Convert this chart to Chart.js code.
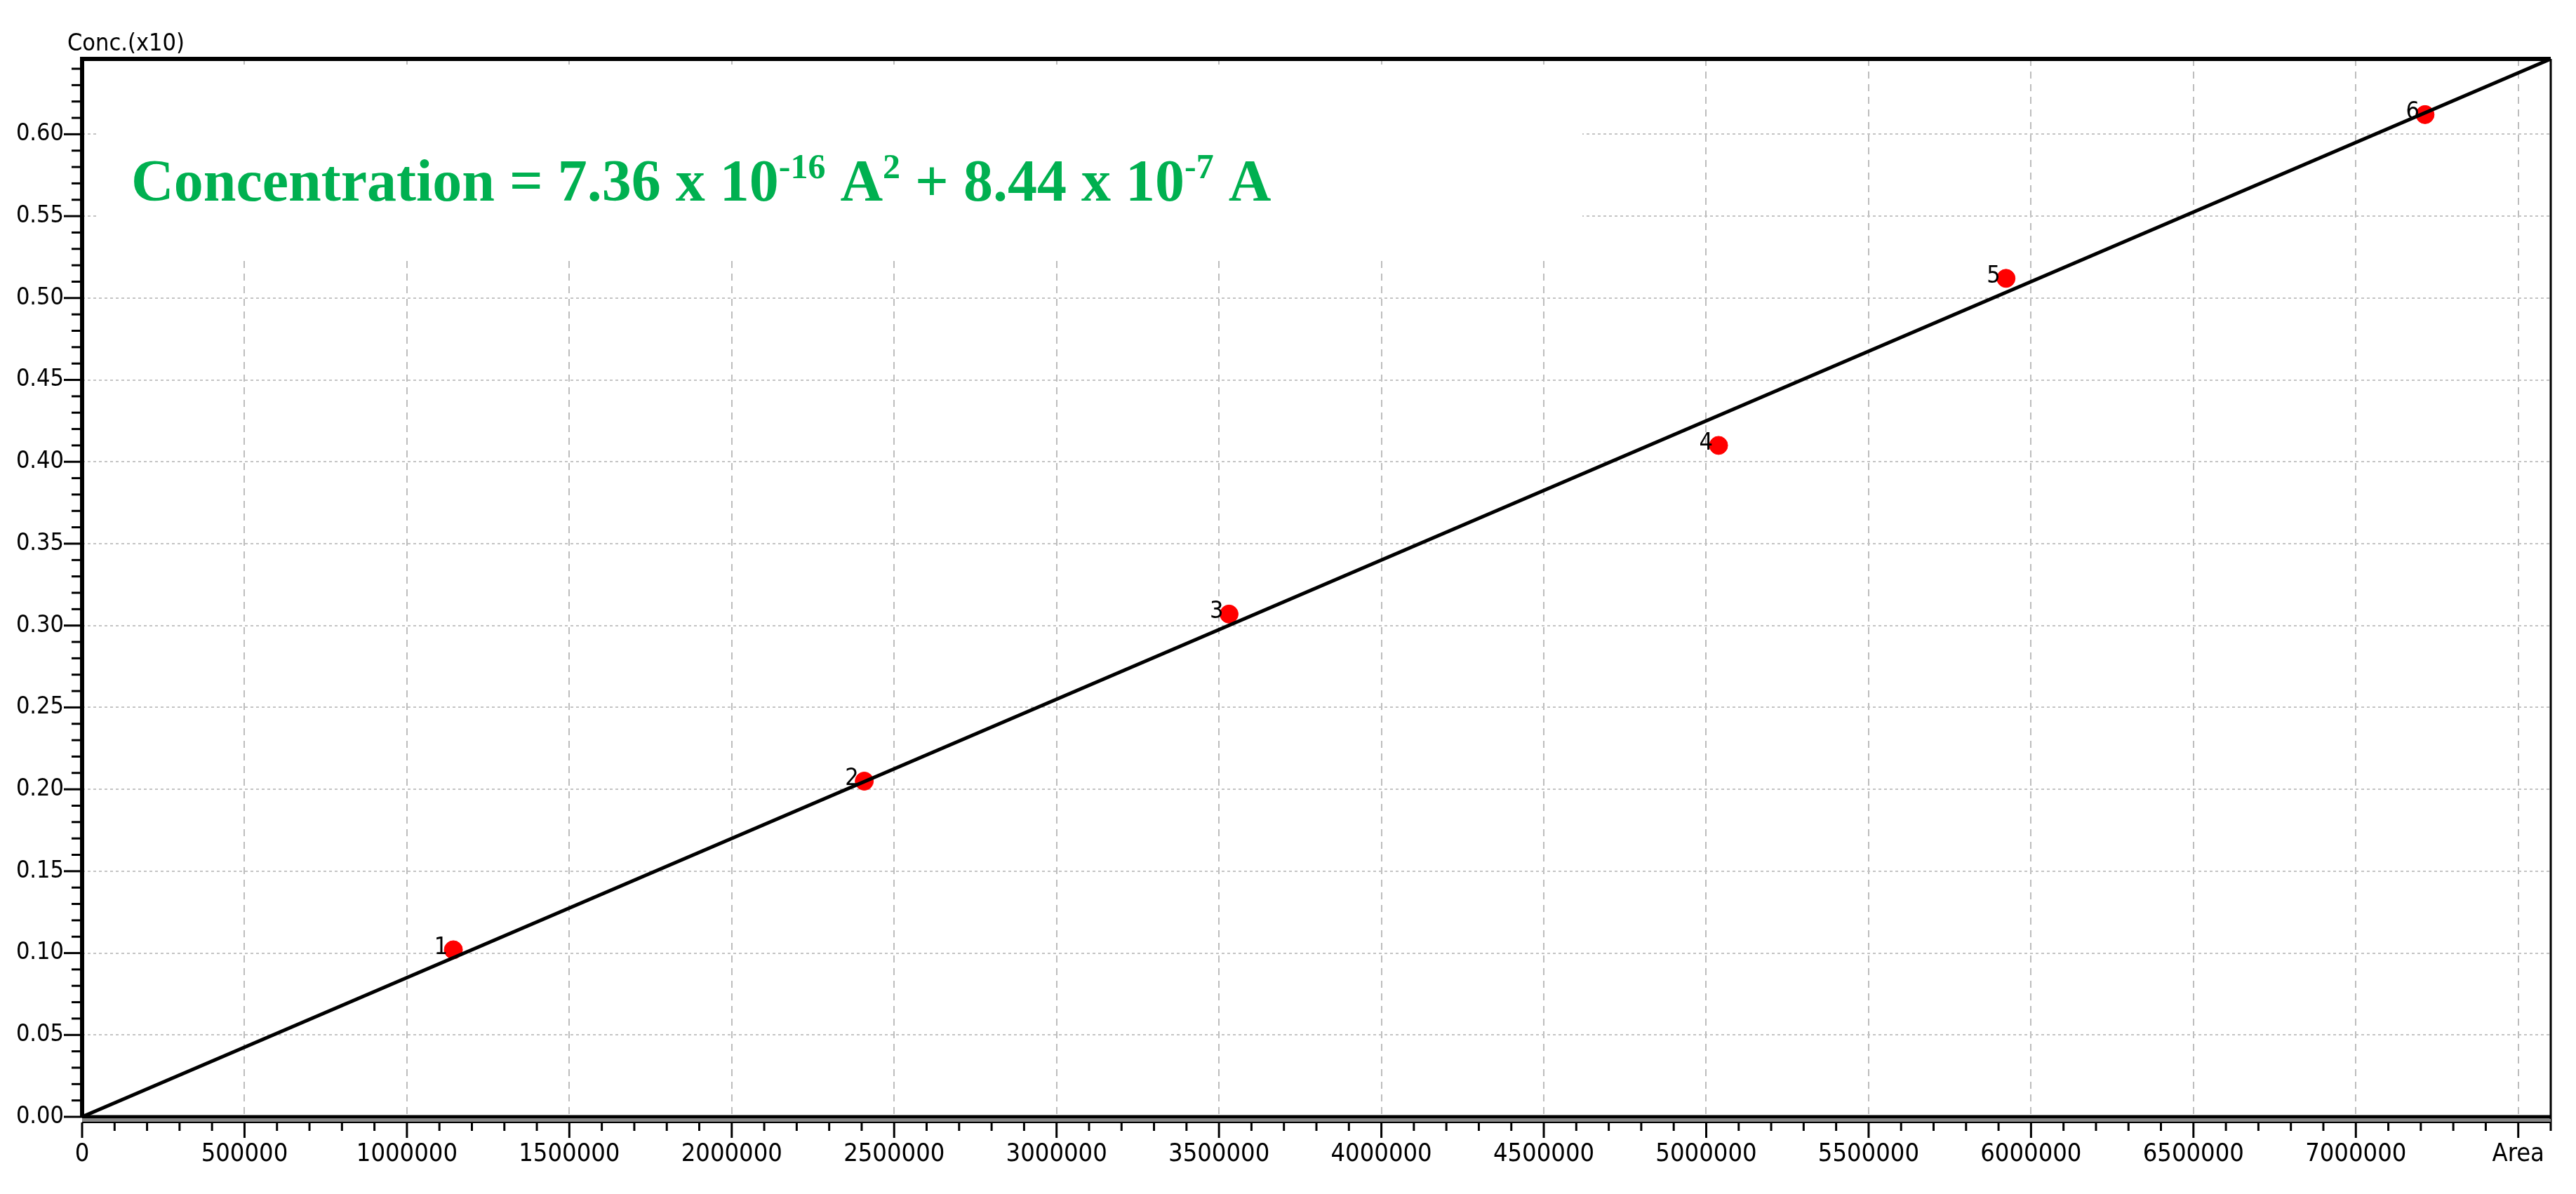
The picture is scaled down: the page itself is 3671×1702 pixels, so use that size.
<!DOCTYPE html>
<html>
<head>
<meta charset="utf-8">
<script src="https://cdn.jsdelivr.net/npm/chart.js@4"></script>
<style>
  html, body { margin: 0; padding: 0; background: #fff; }
  canvas { display: block; }
</style>
</head>
<body>
<canvas id="calib" width="3671" height="1702"></canvas>
<script>
// calibration points (Area vs Conc.)
const pointLabels = ['1', '2', '3', '4', '5', '6'];
const areaValues = [1143000, 2408000, 3531000, 5038000, 5923000, 7213000];
const concValues = [0.102, 0.205, 0.307, 0.410, 0.512, 0.612];

// fitted line ends
const fitArea = [0, 7600000];
const fitConc = [0, 0.646];

const xTicks = [0, 500000, 1000000, 1500000, 2000000, 2500000, 3000000, 3500000,
    4000000, 4500000, 5000000, 5500000, 6000000, 6500000, 7000000, 7500000];
const yTicks = [0, 0.05, 0.10, 0.15, 0.20, 0.25, 0.30, 0.35, 0.40, 0.45, 0.50, 0.55, 0.60];

const labelFont = '"Liberation Sans Narrow", "DejaVu Sans Condensed", "Liberation Sans", sans-serif';

const framePlugin = {
    id: 'frame',
    beforeDatasetsDraw(chart) {
        const c = chart.ctx;
        // white panel behind the equation
        c.save();
        c.fillStyle = '#fff';
        c.fillRect(140, 92, 2115, 272);
        c.restore();
    },
    afterDatasetsDraw(chart) {
        const c = chart.ctx;
        const { left, right, top, bottom } = chart.chartArea;
        const x = chart.scales.x, y = chart.scales.y;
        c.save();

        // point numbers
        c.fillStyle = '#000';
        c.font = '34px ' + labelFont;
        c.textAlign = 'right';
        c.textBaseline = 'alphabetic';
        areaValues.forEach((a, i) => {
            c.fillText(pointLabels[i], x.getPixelForValue(a) - 8, y.getPixelForValue(concValues[i]) + 6);
        });

        // frame
        c.strokeStyle = '#000';
        c.lineWidth = 6;
        c.beginPath();
        c.moveTo(left, bottom); c.lineTo(left, top); c.lineTo(right, top);
        c.stroke();
        c.lineWidth = 3;
        c.beginPath();
        c.moveTo(right, top); c.lineTo(right, bottom + 8);
        c.stroke();
        // double bottom axis
        c.lineWidth = 5;
        c.beginPath(); c.moveTo(left, bottom); c.lineTo(right, bottom); c.stroke();
        c.strokeStyle = '#888';
        c.lineWidth = 4;
        c.beginPath(); c.moveTo(left, bottom + 5); c.lineTo(right, bottom + 5); c.stroke();
        c.strokeStyle = '#000';
        c.lineWidth = 2;
        c.beginPath(); c.moveTo(left, bottom + 8); c.lineTo(right, bottom + 8); c.stroke();

        // x ticks
        c.lineWidth = 3;
        for (let v = 0; v <= 7600000; v += 100000) {
            const px = x.getPixelForValue(v);
            const major = v % 500000 === 0;
            c.beginPath();
            c.moveTo(px, bottom + 8);
            c.lineTo(px, bottom + 8 + (major ? 22 : 12));
            c.stroke();
        }
        // y ticks
        for (let i = 0; i <= 64; i++) {
            const v = i / 100;
            const py = y.getPixelForValue(v);
            const major = i % 5 === 0;
            c.beginPath();
            c.moveTo(left, py);
            c.lineTo(left - (major ? 26 : 15), py);
            c.stroke();
        }

        // axis titles
        c.fillStyle = '#000';
        c.font = '34px ' + labelFont;
        c.textAlign = 'left';
        c.fillText('Conc.(x10)', 96, 72);

        // equation
        c.fillStyle = '#00b050';
        c.textAlign = 'left';
        const big = 'bold 84px "Liberation Serif", "DejaVu Serif", serif';
        const sup = 'bold 50px "Liberation Serif", "DejaVu Serif", serif';
        const parts = [
            ['Concentration = 7.36 x 10', big, 0],
            ['-16', sup, -32],
            [' A', big, 0],
            ['2', sup, -32],
            [' + 8.44 x 10', big, 0],
            ['-7', sup, -32],
            [' A', big, 0]
        ];
        let cx = 187;
        parts.forEach(([t, f, dy]) => {
            c.font = f;
            c.fillText(t, cx, 286 + dy);
            cx += c.measureText(t).width;
        });
        c.restore();
    }
};

new Chart(document.getElementById('calib'), {
    type: 'scatter',
    data: {
        datasets: [
            {
                type: 'line',
                data: fitArea.map((a, i) => ({ x: a, y: fitConc[i] })),
                borderColor: '#000',
                borderWidth: 5,
                pointRadius: 0,
                fill: false
            },
            {
                data: areaValues.map((a, i) => ({ x: a, y: concValues[i] })),
                backgroundColor: '#ff0000',
                borderColor: '#ff0000',
                pointRadius: 13
            }
        ]
    },
    options: {
        responsive: false,
        devicePixelRatio: 1,
        animation: false,
        layout: { padding: { top: 84, right: 36, left: 0, bottom: 0 } },
        plugins: { legend: { display: false }, tooltip: { enabled: false } },
        scales: {
            x: {
                type: 'linear',
                min: 0,
                max: 7600000,
                afterBuildTicks: s => { s.ticks = xTicks.map(v => ({ value: v })); },
                afterFit: s => { s.height = 110; },
                border: { display: false },
                grid: {
                    color: c => (c.tick && c.tick.value > 0) ? '#bdbdbd' : 'rgba(0,0,0,0)',
                    lineWidth: 2,
                    drawTicks: false,
                    tickBorderDash: [0, 0]
                },
                ticks: {
                    padding: 32,
                    maxRotation: 0,
                    autoSkip: false,
                    color: '#000',
                    font: { size: 36, family: labelFont },
                    callback: v => v === 7500000 ? 'Area' : String(v)
                }
            },
            y: {
                type: 'linear',
                min: 0,
                max: 0.646,
                afterBuildTicks: s => { s.ticks = yTicks.map(v => ({ value: v })); },
                afterFit: s => { s.width = 117; },
                border: { display: false },
                grid: {
                    color: c => (c.tick && c.tick.value > 0) ? '#c4c4c4' : 'rgba(0,0,0,0)',
                    lineWidth: 2,
                    drawTicks: false
                },
                ticks: {
                    padding: 26,
                    autoSkip: false,
                    color: '#000',
                    font: { size: 34, family: labelFont },
                    callback: v => v.toFixed(2)
                }
            }
        }
    },
    plugins: [framePlugin, {
        id: 'dashes',
        beforeDraw(chart) {
            chart.options.scales.x.border.dash = [10, 8];
            chart.options.scales.y.border.dash = [4, 4];
        }
    }]
});
</script>
</body>
</html>
